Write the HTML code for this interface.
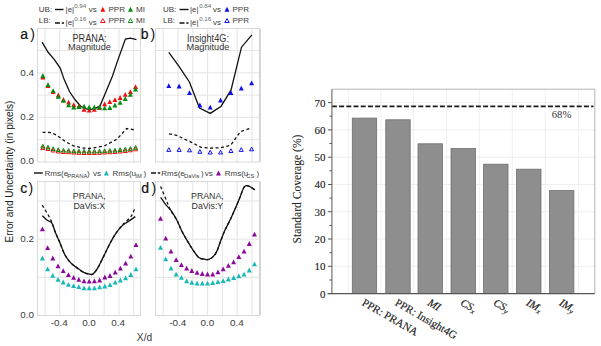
<!DOCTYPE html>
<html><head><meta charset="utf-8"><title>figure</title>
<style>html,body{margin:0;padding:0;background:#fff;width:601px;height:346px;overflow:hidden}svg{display:block}</style>
</head><body>
<svg width="601" height="346" viewBox="0 0 601 346">
<rect width="601" height="346" fill="#fff"/>
<rect x="37.5" y="28.5" width="103.0" height="133.5" fill="#fff"/>
<line x1="45.0" y1="28.5" x2="45.0" y2="162.0" stroke="#e4e4e4" stroke-width="1"/>
<line x1="59.8" y1="28.5" x2="59.8" y2="162.0" stroke="#e4e4e4" stroke-width="1"/>
<line x1="74.6" y1="28.5" x2="74.6" y2="162.0" stroke="#e4e4e4" stroke-width="1"/>
<line x1="89.4" y1="28.5" x2="89.4" y2="162.0" stroke="#e4e4e4" stroke-width="1"/>
<line x1="104.2" y1="28.5" x2="104.2" y2="162.0" stroke="#e4e4e4" stroke-width="1"/>
<line x1="119.0" y1="28.5" x2="119.0" y2="162.0" stroke="#e4e4e4" stroke-width="1"/>
<line x1="133.8" y1="28.5" x2="133.8" y2="162.0" stroke="#e4e4e4" stroke-width="1"/>
<line x1="37.5" y1="139.7" x2="140.5" y2="139.7" stroke="#e4e4e4" stroke-width="1"/>
<line x1="37.5" y1="117.4" x2="140.5" y2="117.4" stroke="#e4e4e4" stroke-width="1"/>
<line x1="37.5" y1="95.1" x2="140.5" y2="95.1" stroke="#e4e4e4" stroke-width="1"/>
<line x1="37.5" y1="72.8" x2="140.5" y2="72.8" stroke="#e4e4e4" stroke-width="1"/>
<line x1="37.5" y1="50.5" x2="140.5" y2="50.5" stroke="#e4e4e4" stroke-width="1"/>
<rect x="37.5" y="28.5" width="103.0" height="133.5" fill="none" stroke="#d9d9d9" stroke-width="1"/>
<rect x="155.5" y="28.5" width="104.0" height="133.5" fill="#fff"/>
<line x1="163.2" y1="28.5" x2="163.2" y2="162.0" stroke="#e4e4e4" stroke-width="1"/>
<line x1="178.0" y1="28.5" x2="178.0" y2="162.0" stroke="#e4e4e4" stroke-width="1"/>
<line x1="192.8" y1="28.5" x2="192.8" y2="162.0" stroke="#e4e4e4" stroke-width="1"/>
<line x1="207.6" y1="28.5" x2="207.6" y2="162.0" stroke="#e4e4e4" stroke-width="1"/>
<line x1="222.4" y1="28.5" x2="222.4" y2="162.0" stroke="#e4e4e4" stroke-width="1"/>
<line x1="237.2" y1="28.5" x2="237.2" y2="162.0" stroke="#e4e4e4" stroke-width="1"/>
<line x1="252.0" y1="28.5" x2="252.0" y2="162.0" stroke="#e4e4e4" stroke-width="1"/>
<line x1="155.5" y1="139.7" x2="259.5" y2="139.7" stroke="#e4e4e4" stroke-width="1"/>
<line x1="155.5" y1="117.4" x2="259.5" y2="117.4" stroke="#e4e4e4" stroke-width="1"/>
<line x1="155.5" y1="95.1" x2="259.5" y2="95.1" stroke="#e4e4e4" stroke-width="1"/>
<line x1="155.5" y1="72.8" x2="259.5" y2="72.8" stroke="#e4e4e4" stroke-width="1"/>
<line x1="155.5" y1="50.5" x2="259.5" y2="50.5" stroke="#e4e4e4" stroke-width="1"/>
<rect x="155.5" y="28.5" width="104.0" height="133.5" fill="none" stroke="#d9d9d9" stroke-width="1"/>
<rect x="37.5" y="181.5" width="103.0" height="134.0" fill="#fff"/>
<line x1="45.0" y1="181.5" x2="45.0" y2="315.5" stroke="#e4e4e4" stroke-width="1"/>
<line x1="59.8" y1="181.5" x2="59.8" y2="315.5" stroke="#e4e4e4" stroke-width="1"/>
<line x1="74.6" y1="181.5" x2="74.6" y2="315.5" stroke="#e4e4e4" stroke-width="1"/>
<line x1="89.4" y1="181.5" x2="89.4" y2="315.5" stroke="#e4e4e4" stroke-width="1"/>
<line x1="104.2" y1="181.5" x2="104.2" y2="315.5" stroke="#e4e4e4" stroke-width="1"/>
<line x1="119.0" y1="181.5" x2="119.0" y2="315.5" stroke="#e4e4e4" stroke-width="1"/>
<line x1="133.8" y1="181.5" x2="133.8" y2="315.5" stroke="#e4e4e4" stroke-width="1"/>
<line x1="37.5" y1="277.4" x2="140.5" y2="277.4" stroke="#e4e4e4" stroke-width="1"/>
<line x1="37.5" y1="239.2" x2="140.5" y2="239.2" stroke="#e4e4e4" stroke-width="1"/>
<line x1="37.5" y1="201.0" x2="140.5" y2="201.0" stroke="#e4e4e4" stroke-width="1"/>
<rect x="37.5" y="181.5" width="103.0" height="134.0" fill="none" stroke="#d9d9d9" stroke-width="1"/>
<rect x="155.5" y="181.5" width="104.0" height="134.0" fill="#fff"/>
<line x1="163.2" y1="181.5" x2="163.2" y2="315.5" stroke="#e4e4e4" stroke-width="1"/>
<line x1="178.0" y1="181.5" x2="178.0" y2="315.5" stroke="#e4e4e4" stroke-width="1"/>
<line x1="192.8" y1="181.5" x2="192.8" y2="315.5" stroke="#e4e4e4" stroke-width="1"/>
<line x1="207.6" y1="181.5" x2="207.6" y2="315.5" stroke="#e4e4e4" stroke-width="1"/>
<line x1="222.4" y1="181.5" x2="222.4" y2="315.5" stroke="#e4e4e4" stroke-width="1"/>
<line x1="237.2" y1="181.5" x2="237.2" y2="315.5" stroke="#e4e4e4" stroke-width="1"/>
<line x1="252.0" y1="181.5" x2="252.0" y2="315.5" stroke="#e4e4e4" stroke-width="1"/>
<line x1="155.5" y1="277.4" x2="259.5" y2="277.4" stroke="#e4e4e4" stroke-width="1"/>
<line x1="155.5" y1="239.2" x2="259.5" y2="239.2" stroke="#e4e4e4" stroke-width="1"/>
<line x1="155.5" y1="201.0" x2="259.5" y2="201.0" stroke="#e4e4e4" stroke-width="1"/>
<rect x="155.5" y="181.5" width="104.0" height="134.0" fill="none" stroke="#d9d9d9" stroke-width="1"/>
<line x1="260" y1="28.5" x2="260" y2="162.0" stroke="#cfcfcf" stroke-width="1.6"/>
<line x1="260" y1="181.5" x2="260" y2="315.5" stroke="#cfcfcf" stroke-width="1.6"/>
<text transform="translate(89.5,41.5) scale(1,1.12)" font-family='"Liberation Sans", sans-serif' font-size="9.2" fill="#333" text-anchor="middle">PRANA:</text><text transform="translate(89.5,50.0)" font-family='"Liberation Sans", sans-serif' font-size="9.2" fill="#333" text-anchor="middle">Magnitude</text>
<text transform="translate(208,41.5) scale(1,1.12)" font-family='"Liberation Sans", sans-serif' font-size="9.2" fill="#333" text-anchor="middle">Insight4G:</text><text transform="translate(208,50.0)" font-family='"Liberation Sans", sans-serif' font-size="9.2" fill="#333" text-anchor="middle">Magnitude</text>
<text transform="translate(89.2,198.6) scale(1,1.05)" font-family='"Liberation Sans", sans-serif' font-size="8.8" fill="#333" text-anchor="middle">PRANA,</text><text transform="translate(89.2,208.6)" font-family='"Liberation Sans", sans-serif' font-size="8.8" fill="#333" text-anchor="middle">DaVis:X</text>
<text transform="translate(207.4,198.6) scale(1,1.05)" font-family='"Liberation Sans", sans-serif' font-size="8.8" fill="#333" text-anchor="middle">PRANA,</text><text transform="translate(207.4,208.6)" font-family='"Liberation Sans", sans-serif' font-size="8.8" fill="#333" text-anchor="middle">DaVis:Y</text>
<text x="20.3" y="38.5" font-family='"Liberation Sans", sans-serif' font-size="14" fill="#111" stroke="#111" stroke-width="0.2">a</text>
<text x="30.3" y="38.5" font-family='"Liberation Sans", sans-serif' font-size="14" fill="#111">)</text>
<text x="140.7" y="38.5" font-family='"Liberation Sans", sans-serif' font-size="14" fill="#111" stroke="#111" stroke-width="0.2">b</text>
<text x="150.6" y="38.5" font-family='"Liberation Sans", sans-serif' font-size="14" fill="#111">)</text>
<text x="20.3" y="193.3" font-family='"Liberation Sans", sans-serif' font-size="14" fill="#111" stroke="#111" stroke-width="0.2">c</text>
<text x="28.6" y="193.3" font-family='"Liberation Sans", sans-serif' font-size="14" fill="#111">)</text>
<text x="141.2" y="193.3" font-family='"Liberation Sans", sans-serif' font-size="14" fill="#111" stroke="#111" stroke-width="0.2">d</text>
<text x="151.5" y="193.3" font-family='"Liberation Sans", sans-serif' font-size="14" fill="#111">)</text>
<polyline points="42.1,42.2 48.1,52.3 54.2,59.3 60.3,68.4 64.0,79.1 69.6,91.8 75.1,99.8 80.7,106.2 84.0,108.0 89.4,109.8 95.0,108.5 99.8,106.2 104.6,95.0 112.5,75.9 117.3,61.6 125.4,39.1 130.5,38.1 136.5,39.7" fill="none" stroke="#111" stroke-width="1.3"/>
<polyline points="42.5,132.3 50.0,132.5 56.4,134.9 64.9,141.3 73.5,146.0 84.1,148.1 89.0,148.5 104.2,146.0 117.0,139.1 126.7,128.5 135.2,130.0" fill="none" stroke="#111" stroke-width="1.3" stroke-dasharray="3,2.5"/>
<polygon points="42.85,74.60 45.35,79.40 40.35,79.40" fill="#f01010"/>
<polygon points="48.00,83.10 50.50,87.90 45.50,87.90" fill="#f01010"/>
<polygon points="53.15,89.30 55.65,94.10 50.65,94.10" fill="#f01010"/>
<polygon points="58.30,92.60 60.80,97.40 55.80,97.40" fill="#f01010"/>
<polygon points="63.45,97.10 65.95,101.90 60.95,101.90" fill="#f01010"/>
<polygon points="68.60,99.80 71.10,104.60 66.10,104.60" fill="#f01010"/>
<polygon points="73.75,102.20 76.25,107.00 71.25,107.00" fill="#f01010"/>
<polygon points="78.90,103.60 81.40,108.40 76.40,108.40" fill="#f01010"/>
<polygon points="84.05,107.00 86.55,111.80 81.55,111.80" fill="#f01010"/>
<polygon points="89.20,107.80 91.70,112.60 86.70,112.60" fill="#f01010"/>
<polygon points="94.35,107.00 96.85,111.80 91.85,111.80" fill="#f01010"/>
<polygon points="99.50,105.10 102.00,109.90 97.00,109.90" fill="#f01010"/>
<polygon points="104.65,101.40 107.15,106.20 102.15,106.20" fill="#f01010"/>
<polygon points="109.80,99.30 112.30,104.10 107.30,104.10" fill="#f01010"/>
<polygon points="114.95,97.20 117.45,102.00 112.45,102.00" fill="#f01010"/>
<polygon points="120.10,95.10 122.60,99.90 117.60,99.90" fill="#f01010"/>
<polygon points="125.25,91.90 127.75,96.70 122.75,96.70" fill="#f01010"/>
<polygon points="130.40,89.30 132.90,94.10 127.90,94.10" fill="#f01010"/>
<polygon points="135.55,84.20 138.05,89.00 133.05,89.00" fill="#f01010"/>
<polygon points="42.85,73.10 45.35,77.90 40.35,77.90" fill="#0a8a10"/>
<polygon points="48.00,82.20 50.50,87.00 45.50,87.00" fill="#0a8a10"/>
<polygon points="53.15,88.20 55.65,93.00 50.65,93.00" fill="#0a8a10"/>
<polygon points="58.30,94.00 60.80,98.80 55.80,98.80" fill="#0a8a10"/>
<polygon points="63.45,97.90 65.95,102.70 60.95,102.70" fill="#0a8a10"/>
<polygon points="68.60,102.50 71.10,107.30 66.10,107.30" fill="#0a8a10"/>
<polygon points="73.75,104.60 76.25,109.40 71.25,109.40" fill="#0a8a10"/>
<polygon points="78.90,104.30 81.40,109.10 76.40,109.10" fill="#0a8a10"/>
<polygon points="84.05,103.80 86.55,108.60 81.55,108.60" fill="#0a8a10"/>
<polygon points="89.20,104.60 91.70,109.40 86.70,109.40" fill="#0a8a10"/>
<polygon points="94.35,104.60 96.85,109.40 91.85,109.40" fill="#0a8a10"/>
<polygon points="99.50,104.60 102.00,109.40 97.00,109.40" fill="#0a8a10"/>
<polygon points="104.65,105.40 107.15,110.20 102.15,110.20" fill="#0a8a10"/>
<polygon points="109.80,105.10 112.30,109.90 107.30,109.90" fill="#0a8a10"/>
<polygon points="114.95,102.60 117.45,107.40 112.45,107.40" fill="#0a8a10"/>
<polygon points="120.10,100.00 122.60,104.80 117.60,104.80" fill="#0a8a10"/>
<polygon points="125.25,96.10 127.75,100.90 122.75,100.90" fill="#0a8a10"/>
<polygon points="130.40,91.90 132.90,96.70 127.90,96.70" fill="#0a8a10"/>
<polygon points="135.55,86.60 138.05,91.40 133.05,91.40" fill="#0a8a10"/>
<polygon points="42.85,145.80 44.85,149.50 40.85,149.50" fill="none" stroke="#f01010" stroke-width="1.0" stroke-linejoin="miter"/>
<polygon points="48.00,146.80 50.00,150.50 46.00,150.50" fill="none" stroke="#f01010" stroke-width="1.0" stroke-linejoin="miter"/>
<polygon points="53.15,148.30 55.15,152.00 51.15,152.00" fill="none" stroke="#f01010" stroke-width="1.0" stroke-linejoin="miter"/>
<polygon points="58.30,149.30 60.30,153.00 56.30,153.00" fill="none" stroke="#f01010" stroke-width="1.0" stroke-linejoin="miter"/>
<polygon points="63.45,149.80 65.45,153.50 61.45,153.50" fill="none" stroke="#f01010" stroke-width="1.0" stroke-linejoin="miter"/>
<polygon points="68.60,150.00 70.60,153.70 66.60,153.70" fill="none" stroke="#f01010" stroke-width="1.0" stroke-linejoin="miter"/>
<polygon points="73.75,150.40 75.75,154.10 71.75,154.10" fill="none" stroke="#f01010" stroke-width="1.0" stroke-linejoin="miter"/>
<polygon points="78.90,150.60 80.90,154.30 76.90,154.30" fill="none" stroke="#f01010" stroke-width="1.0" stroke-linejoin="miter"/>
<polygon points="84.05,150.80 86.05,154.50 82.05,154.50" fill="none" stroke="#f01010" stroke-width="1.0" stroke-linejoin="miter"/>
<polygon points="89.20,150.80 91.20,154.50 87.20,154.50" fill="none" stroke="#f01010" stroke-width="1.0" stroke-linejoin="miter"/>
<polygon points="94.35,150.80 96.35,154.50 92.35,154.50" fill="none" stroke="#f01010" stroke-width="1.0" stroke-linejoin="miter"/>
<polygon points="99.50,150.60 101.50,154.30 97.50,154.30" fill="none" stroke="#f01010" stroke-width="1.0" stroke-linejoin="miter"/>
<polygon points="104.65,150.30 106.65,154.00 102.65,154.00" fill="none" stroke="#f01010" stroke-width="1.0" stroke-linejoin="miter"/>
<polygon points="109.80,150.00 111.80,153.70 107.80,153.70" fill="none" stroke="#f01010" stroke-width="1.0" stroke-linejoin="miter"/>
<polygon points="114.95,149.80 116.95,153.50 112.95,153.50" fill="none" stroke="#f01010" stroke-width="1.0" stroke-linejoin="miter"/>
<polygon points="120.10,149.30 122.10,153.00 118.10,153.00" fill="none" stroke="#f01010" stroke-width="1.0" stroke-linejoin="miter"/>
<polygon points="125.25,148.80 127.25,152.50 123.25,152.50" fill="none" stroke="#f01010" stroke-width="1.0" stroke-linejoin="miter"/>
<polygon points="130.40,148.10 132.40,151.80 128.40,151.80" fill="none" stroke="#f01010" stroke-width="1.0" stroke-linejoin="miter"/>
<polygon points="135.55,147.10 137.55,150.80 133.55,150.80" fill="none" stroke="#f01010" stroke-width="1.0" stroke-linejoin="miter"/>
<polygon points="42.85,144.30 44.85,148.00 40.85,148.00" fill="none" stroke="#0a8a10" stroke-width="1.0" stroke-linejoin="miter"/>
<polygon points="48.00,145.30 50.00,149.00 46.00,149.00" fill="none" stroke="#0a8a10" stroke-width="1.0" stroke-linejoin="miter"/>
<polygon points="53.15,146.80 55.15,150.50 51.15,150.50" fill="none" stroke="#0a8a10" stroke-width="1.0" stroke-linejoin="miter"/>
<polygon points="58.30,147.80 60.30,151.50 56.30,151.50" fill="none" stroke="#0a8a10" stroke-width="1.0" stroke-linejoin="miter"/>
<polygon points="63.45,148.30 65.45,152.00 61.45,152.00" fill="none" stroke="#0a8a10" stroke-width="1.0" stroke-linejoin="miter"/>
<polygon points="68.60,148.50 70.60,152.20 66.60,152.20" fill="none" stroke="#0a8a10" stroke-width="1.0" stroke-linejoin="miter"/>
<polygon points="73.75,148.90 75.75,152.60 71.75,152.60" fill="none" stroke="#0a8a10" stroke-width="1.0" stroke-linejoin="miter"/>
<polygon points="78.90,149.10 80.90,152.80 76.90,152.80" fill="none" stroke="#0a8a10" stroke-width="1.0" stroke-linejoin="miter"/>
<polygon points="84.05,149.30 86.05,153.00 82.05,153.00" fill="none" stroke="#0a8a10" stroke-width="1.0" stroke-linejoin="miter"/>
<polygon points="89.20,149.30 91.20,153.00 87.20,153.00" fill="none" stroke="#0a8a10" stroke-width="1.0" stroke-linejoin="miter"/>
<polygon points="94.35,149.30 96.35,153.00 92.35,153.00" fill="none" stroke="#0a8a10" stroke-width="1.0" stroke-linejoin="miter"/>
<polygon points="99.50,149.10 101.50,152.80 97.50,152.80" fill="none" stroke="#0a8a10" stroke-width="1.0" stroke-linejoin="miter"/>
<polygon points="104.65,148.80 106.65,152.50 102.65,152.50" fill="none" stroke="#0a8a10" stroke-width="1.0" stroke-linejoin="miter"/>
<polygon points="109.80,148.50 111.80,152.20 107.80,152.20" fill="none" stroke="#0a8a10" stroke-width="1.0" stroke-linejoin="miter"/>
<polygon points="114.95,148.30 116.95,152.00 112.95,152.00" fill="none" stroke="#0a8a10" stroke-width="1.0" stroke-linejoin="miter"/>
<polygon points="120.10,147.80 122.10,151.50 118.10,151.50" fill="none" stroke="#0a8a10" stroke-width="1.0" stroke-linejoin="miter"/>
<polygon points="125.25,147.30 127.25,151.00 123.25,151.00" fill="none" stroke="#0a8a10" stroke-width="1.0" stroke-linejoin="miter"/>
<polygon points="130.40,146.60 132.40,150.30 128.40,150.30" fill="none" stroke="#0a8a10" stroke-width="1.0" stroke-linejoin="miter"/>
<polygon points="135.55,145.60 137.55,149.30 133.55,149.30" fill="none" stroke="#0a8a10" stroke-width="1.0" stroke-linejoin="miter"/>
<polyline points="168.8,52.3 179.0,66.4 189.4,82.0 199.5,108.0 210.3,113.4 221.1,106.2 231.0,90.2 241.5,47.2 251.9,34.9" fill="none" stroke="#111" stroke-width="1.3"/>
<polyline points="169.0,133.8 176.5,135.3 191.5,142.4 201.0,147.3 210.7,148.1 221.2,147.7 230.8,145.1 240.4,131.7 250.0,128.5" fill="none" stroke="#111" stroke-width="1.3" stroke-dasharray="3,2.5"/>
<polygon points="168.80,83.20 171.30,88.00 166.30,88.00" fill="#1010e8"/>
<polygon points="179.15,83.60 181.65,88.40 176.65,88.40" fill="#1010e8"/>
<polygon points="189.50,90.20 192.00,95.00 187.00,95.00" fill="#1010e8"/>
<polygon points="199.85,102.60 202.35,107.40 197.35,107.40" fill="#1010e8"/>
<polygon points="210.20,104.70 212.70,109.50 207.70,109.50" fill="#1010e8"/>
<polygon points="220.55,97.60 223.05,102.40 218.05,102.40" fill="#1010e8"/>
<polygon points="230.90,90.30 233.40,95.10 228.40,95.10" fill="#1010e8"/>
<polygon points="241.25,85.80 243.75,90.60 238.75,90.60" fill="#1010e8"/>
<polygon points="251.60,80.40 254.10,85.20 249.10,85.20" fill="#1010e8"/>
<polygon points="168.80,147.70 170.80,151.40 166.80,151.40" fill="none" stroke="#1010e8" stroke-width="1.0" stroke-linejoin="miter"/>
<polygon points="179.15,147.70 181.15,151.40 177.15,151.40" fill="none" stroke="#1010e8" stroke-width="1.0" stroke-linejoin="miter"/>
<polygon points="189.50,148.10 191.50,151.80 187.50,151.80" fill="none" stroke="#1010e8" stroke-width="1.0" stroke-linejoin="miter"/>
<polygon points="199.85,149.60 201.85,153.30 197.85,153.30" fill="none" stroke="#1010e8" stroke-width="1.0" stroke-linejoin="miter"/>
<polygon points="210.20,150.30 212.20,154.00 208.20,154.00" fill="none" stroke="#1010e8" stroke-width="1.0" stroke-linejoin="miter"/>
<polygon points="220.55,150.30 222.55,154.00 218.55,154.00" fill="none" stroke="#1010e8" stroke-width="1.0" stroke-linejoin="miter"/>
<polygon points="230.90,148.80 232.90,152.50 228.90,152.50" fill="none" stroke="#1010e8" stroke-width="1.0" stroke-linejoin="miter"/>
<polygon points="241.25,147.70 243.25,151.40 239.25,151.40" fill="none" stroke="#1010e8" stroke-width="1.0" stroke-linejoin="miter"/>
<polygon points="251.60,147.10 253.60,150.80 249.60,150.80" fill="none" stroke="#1010e8" stroke-width="1.0" stroke-linejoin="miter"/>
<path d="M42.20,215.70 C43.03,216.47 45.58,219.07 47.20,220.30 C48.82,221.53 50.55,221.10 51.90,223.10 C53.25,225.10 53.97,229.03 55.30,232.30 C56.63,235.57 58.35,239.03 59.90,242.70 C61.45,246.37 62.87,251.02 64.60,254.30 C66.33,257.58 68.18,260.10 70.30,262.40 C72.42,264.70 74.98,266.38 77.30,268.10 C79.62,269.82 82.17,271.68 84.20,272.70 C86.23,273.72 88.03,273.98 89.50,274.20 C90.97,274.42 91.63,275.02 93.00,274.00 C94.37,272.98 95.95,271.00 97.70,268.10 C99.45,265.20 101.58,260.45 103.50,256.60 C105.42,252.75 107.28,248.67 109.20,245.00 C111.12,241.33 112.87,237.78 115.00,234.60 C117.13,231.42 119.88,228.02 122.00,225.90 C124.12,223.78 125.48,223.45 127.70,221.90 C129.92,220.35 134.03,217.48 135.30,216.60" fill="none" stroke="#111" stroke-width="1.3"/>
<path d="M42.20,205.10 C43.42,207.13 47.70,213.90 49.50,217.30 C51.30,220.70 52.03,223.00 53.00,225.50 C53.97,228.00 54.15,229.43 55.30,232.30 C56.45,235.17 58.35,239.03 59.90,242.70 C61.45,246.37 62.87,251.02 64.60,254.30 C66.33,257.58 68.18,260.10 70.30,262.40 C72.42,264.70 74.98,266.38 77.30,268.10 C79.62,269.82 82.17,271.68 84.20,272.70 C86.23,273.72 88.03,273.98 89.50,274.20 C90.97,274.42 91.63,275.02 93.00,274.00 C94.37,272.98 95.95,271.00 97.70,268.10 C99.45,265.20 101.58,260.45 103.50,256.60 C105.42,252.75 107.28,248.67 109.20,245.00 C111.12,241.33 113.37,237.27 115.00,234.60 C116.63,231.93 117.65,230.73 119.00,229.00 C120.35,227.27 121.07,226.33 123.10,224.20 C125.13,222.07 129.17,219.08 131.20,216.20 C133.23,213.32 134.62,208.45 135.30,206.90" fill="none" stroke="#111" stroke-width="1.3" stroke-dasharray="3,2.5"/>
<polygon points="42.40,226.50 44.90,231.30 39.90,231.30" fill="#8a0a9a"/>
<polygon points="47.60,245.20 50.10,250.00 45.10,250.00" fill="#8a0a9a"/>
<polygon points="52.80,255.60 55.30,260.40 50.30,260.40" fill="#8a0a9a"/>
<polygon points="58.00,263.50 60.50,268.30 55.50,268.30" fill="#8a0a9a"/>
<polygon points="63.20,268.30 65.70,273.10 60.70,273.10" fill="#8a0a9a"/>
<polygon points="68.40,272.20 70.90,277.00 65.90,277.00" fill="#8a0a9a"/>
<polygon points="73.60,275.00 76.10,279.80 71.10,279.80" fill="#8a0a9a"/>
<polygon points="78.80,276.90 81.30,281.70 76.30,281.70" fill="#8a0a9a"/>
<polygon points="84.00,278.50 86.50,283.30 81.50,283.30" fill="#8a0a9a"/>
<polygon points="89.20,278.70 91.70,283.50 86.70,283.50" fill="#8a0a9a"/>
<polygon points="94.40,278.50 96.90,283.30 91.90,283.30" fill="#8a0a9a"/>
<polygon points="99.60,277.60 102.10,282.40 97.10,282.40" fill="#8a0a9a"/>
<polygon points="104.80,274.60 107.30,279.40 102.30,279.40" fill="#8a0a9a"/>
<polygon points="110.00,273.10 112.50,277.90 107.50,277.90" fill="#8a0a9a"/>
<polygon points="115.20,269.80 117.70,274.60 112.70,274.60" fill="#8a0a9a"/>
<polygon points="120.40,265.80 122.90,270.60 117.90,270.60" fill="#8a0a9a"/>
<polygon points="125.60,260.80 128.10,265.60 123.10,265.60" fill="#8a0a9a"/>
<polygon points="130.80,253.70 133.30,258.50 128.30,258.50" fill="#8a0a9a"/>
<polygon points="136.00,242.30 138.50,247.10 133.50,247.10" fill="#8a0a9a"/>
<polygon points="42.40,255.60 44.90,260.40 39.90,260.40" fill="#18b8b8"/>
<polygon points="47.60,266.50 50.10,271.30 45.10,271.30" fill="#18b8b8"/>
<polygon points="52.80,272.90 55.30,277.70 50.30,277.70" fill="#18b8b8"/>
<polygon points="58.00,276.90 60.50,281.70 55.50,281.70" fill="#18b8b8"/>
<polygon points="63.20,279.60 65.70,284.40 60.70,284.40" fill="#18b8b8"/>
<polygon points="68.40,281.90 70.90,286.70 65.90,286.70" fill="#18b8b8"/>
<polygon points="73.60,283.30 76.10,288.10 71.10,288.10" fill="#18b8b8"/>
<polygon points="78.80,284.30 81.30,289.10 76.30,289.10" fill="#18b8b8"/>
<polygon points="84.00,285.40 86.50,290.20 81.50,290.20" fill="#18b8b8"/>
<polygon points="89.20,285.40 91.70,290.20 86.70,290.20" fill="#18b8b8"/>
<polygon points="94.40,285.40 96.90,290.20 91.90,290.20" fill="#18b8b8"/>
<polygon points="99.60,284.50 102.10,289.30 97.10,289.30" fill="#18b8b8"/>
<polygon points="104.80,283.60 107.30,288.40 102.30,288.40" fill="#18b8b8"/>
<polygon points="110.00,282.30 112.50,287.10 107.50,287.10" fill="#18b8b8"/>
<polygon points="115.20,279.70 117.70,284.50 112.70,284.50" fill="#18b8b8"/>
<polygon points="120.40,277.60 122.90,282.40 117.90,282.40" fill="#18b8b8"/>
<polygon points="125.60,275.40 128.10,280.20 123.10,280.20" fill="#18b8b8"/>
<polygon points="130.80,272.10 133.30,276.90 128.30,276.90" fill="#18b8b8"/>
<polygon points="136.00,266.40 138.50,271.20 133.50,271.20" fill="#18b8b8"/>
<path d="M160.60,197.30 C161.37,198.38 163.47,201.57 165.20,203.80 C166.93,206.03 169.07,208.00 171.00,210.70 C172.93,213.40 175.07,216.73 176.80,220.00 C178.53,223.27 179.67,226.85 181.40,230.30 C183.13,233.75 185.27,237.42 187.20,240.70 C189.13,243.98 191.08,247.22 193.00,250.00 C194.92,252.78 196.78,255.87 198.70,257.40 C200.62,258.93 202.82,258.87 204.50,259.20 C206.18,259.53 207.32,259.87 208.80,259.40 C210.28,258.93 212.05,257.78 213.40,256.40 C214.75,255.02 215.75,253.52 216.90,251.10 C218.05,248.68 218.97,245.37 220.30,241.90 C221.63,238.43 223.17,234.15 224.90,230.30 C226.63,226.45 228.97,222.45 230.70,218.80 C232.43,215.15 233.95,211.48 235.30,208.40 C236.65,205.32 237.63,203.18 238.80,200.30 C239.97,197.42 241.33,193.40 242.30,191.10 C243.27,188.80 243.65,187.38 244.60,186.50 C245.55,185.62 246.85,185.62 248.00,185.80 C249.15,185.98 250.33,186.92 251.50,187.60 C252.67,188.28 254.42,189.52 255.00,189.90" fill="none" stroke="#111" stroke-width="1.3"/>
<path d="M160.60,186.50 C161.57,188.80 164.78,196.45 166.40,200.30 C168.02,204.15 168.57,206.32 170.30,209.60 C172.03,212.88 174.95,216.55 176.80,220.00 C178.65,223.45 179.67,226.85 181.40,230.30 C183.13,233.75 185.27,237.42 187.20,240.70 C189.13,243.98 191.08,247.22 193.00,250.00 C194.92,252.78 196.78,255.87 198.70,257.40 C200.62,258.93 202.82,258.87 204.50,259.20 C206.18,259.53 207.32,259.87 208.80,259.40 C210.28,258.93 212.05,257.78 213.40,256.40 C214.75,255.02 215.75,253.52 216.90,251.10 C218.05,248.68 218.97,245.37 220.30,241.90 C221.63,238.43 223.17,234.15 224.90,230.30 C226.63,226.45 228.97,222.45 230.70,218.80 C232.43,215.15 233.95,211.48 235.30,208.40 C236.65,205.32 237.63,203.18 238.80,200.30 C239.97,197.42 241.33,193.40 242.30,191.10 C243.27,188.80 243.65,187.38 244.60,186.50 C245.55,185.62 246.85,185.62 248.00,185.80 C249.15,185.98 250.33,186.92 251.50,187.60 C252.67,188.28 254.42,189.52 255.00,189.90" fill="none" stroke="#111" stroke-width="1.3" stroke-dasharray="3,2.5"/>
<polygon points="160.52,216.00 163.02,220.80 158.02,220.80" fill="#8a0a9a"/>
<polygon points="165.74,235.80 168.24,240.60 163.24,240.60" fill="#8a0a9a"/>
<polygon points="170.96,248.70 173.46,253.50 168.46,253.50" fill="#8a0a9a"/>
<polygon points="176.18,257.20 178.68,262.00 173.68,262.00" fill="#8a0a9a"/>
<polygon points="181.40,262.30 183.90,267.10 178.90,267.10" fill="#8a0a9a"/>
<polygon points="186.62,265.80 189.12,270.60 184.12,270.60" fill="#8a0a9a"/>
<polygon points="191.84,268.10 194.34,272.90 189.34,272.90" fill="#8a0a9a"/>
<polygon points="197.06,269.90 199.56,274.70 194.56,274.70" fill="#8a0a9a"/>
<polygon points="202.28,271.10 204.78,275.90 199.78,275.90" fill="#8a0a9a"/>
<polygon points="207.50,271.60 210.00,276.40 205.00,276.40" fill="#8a0a9a"/>
<polygon points="212.72,271.60 215.22,276.40 210.22,276.40" fill="#8a0a9a"/>
<polygon points="217.94,269.50 220.44,274.30 215.44,274.30" fill="#8a0a9a"/>
<polygon points="223.16,266.50 225.66,271.30 220.66,271.30" fill="#8a0a9a"/>
<polygon points="228.38,263.00 230.88,267.80 225.88,267.80" fill="#8a0a9a"/>
<polygon points="233.60,259.50 236.10,264.30 231.10,264.30" fill="#8a0a9a"/>
<polygon points="238.82,254.20 241.32,259.00 236.32,259.00" fill="#8a0a9a"/>
<polygon points="244.04,248.70 246.54,253.50 241.54,253.50" fill="#8a0a9a"/>
<polygon points="249.26,241.10 251.76,245.90 246.76,245.90" fill="#8a0a9a"/>
<polygon points="254.48,231.70 256.98,236.50 251.98,236.50" fill="#8a0a9a"/>
<polygon points="160.52,245.00 163.02,249.80 158.02,249.80" fill="#18b8b8"/>
<polygon points="165.74,256.50 168.24,261.30 163.24,261.30" fill="#18b8b8"/>
<polygon points="170.96,265.80 173.46,270.60 168.46,270.60" fill="#18b8b8"/>
<polygon points="176.18,271.80 178.68,276.60 173.68,276.60" fill="#18b8b8"/>
<polygon points="181.40,275.00 183.90,279.80 178.90,279.80" fill="#18b8b8"/>
<polygon points="186.62,278.50 189.12,283.30 184.12,283.30" fill="#18b8b8"/>
<polygon points="191.84,279.90 194.34,284.70 189.34,284.70" fill="#18b8b8"/>
<polygon points="197.06,280.80 199.56,285.60 194.56,285.60" fill="#18b8b8"/>
<polygon points="202.28,280.80 204.78,285.60 199.78,285.60" fill="#18b8b8"/>
<polygon points="207.50,280.80 210.00,285.60 205.00,285.60" fill="#18b8b8"/>
<polygon points="212.72,280.30 215.22,285.10 210.22,285.10" fill="#18b8b8"/>
<polygon points="217.94,279.20 220.44,284.00 215.44,284.00" fill="#18b8b8"/>
<polygon points="223.16,278.20 225.66,283.00 220.66,283.00" fill="#18b8b8"/>
<polygon points="228.38,276.60 230.88,281.40 225.88,281.40" fill="#18b8b8"/>
<polygon points="233.60,275.10 236.10,279.90 231.10,279.90" fill="#18b8b8"/>
<polygon points="238.82,273.40 241.32,278.20 236.32,278.20" fill="#18b8b8"/>
<polygon points="244.04,271.80 246.54,276.60 241.54,276.60" fill="#18b8b8"/>
<polygon points="249.26,267.60 251.76,272.40 246.76,272.40" fill="#18b8b8"/>
<polygon points="254.48,261.40 256.98,266.20 251.98,266.20" fill="#18b8b8"/>
<text x="34" y="75.6" font-family='"Liberation Sans", sans-serif' font-size="9.9" fill="#3c3c3c" text-anchor="end">0.4</text>
<text x="34" y="119.9" font-family='"Liberation Sans", sans-serif' font-size="9.9" fill="#3c3c3c" text-anchor="end">0.2</text>
<text x="34" y="164.1" font-family='"Liberation Sans", sans-serif' font-size="9.9" fill="#3c3c3c" text-anchor="end">0.0</text>
<text x="34" y="241.6" font-family='"Liberation Sans", sans-serif' font-size="9.9" fill="#3c3c3c" text-anchor="end">0.2</text>
<text x="34" y="318.2" font-family='"Liberation Sans", sans-serif' font-size="9.9" fill="#3c3c3c" text-anchor="end">0.0</text>
<text x="59.3" y="326.3" font-family='"Liberation Sans", sans-serif' font-size="9.9" fill="#3c3c3c" text-anchor="middle">-0.4</text>
<text x="89.0" y="326.3" font-family='"Liberation Sans", sans-serif' font-size="9.9" fill="#3c3c3c" text-anchor="middle">0.0</text>
<text x="118.2" y="326.3" font-family='"Liberation Sans", sans-serif' font-size="9.9" fill="#3c3c3c" text-anchor="middle">0.4</text>
<text x="177.8" y="326.3" font-family='"Liberation Sans", sans-serif' font-size="9.9" fill="#3c3c3c" text-anchor="middle">-0.4</text>
<text x="207.3" y="326.3" font-family='"Liberation Sans", sans-serif' font-size="9.9" fill="#3c3c3c" text-anchor="middle">0.0</text>
<text x="236.8" y="326.3" font-family='"Liberation Sans", sans-serif' font-size="9.9" fill="#3c3c3c" text-anchor="middle">0.4</text>
<text x="144.5" y="341" font-family='"Liberation Sans", sans-serif' font-size="10.2" fill="#3c3c3c" text-anchor="middle">X/d</text>
<text transform="translate(13.3,171.6) rotate(-90)" font-family='"Liberation Sans", sans-serif' font-size="10.1" fill="#222" text-anchor="middle">Error and Uncertainty (in pixels)</text>
<text x="38.8" y="11.8" font-family='"Liberation Sans", sans-serif' font-size="8.0" fill="#3c3c3c">UB:</text>
<line x1="55" y1="9.5" x2="63.5" y2="9.5" stroke="#111" stroke-width="1.4"/>
<text x="65.6" y="12.2" font-family='"Liberation Sans", sans-serif' font-size="7.9" fill="#3c3c3c">|e|</text>
<text x="74.2" y="8.1" font-family='"Liberation Sans", sans-serif' font-size="6.2" fill="#666">0.94</text>
<text x="88.8" y="11.8" font-family='"Liberation Sans", sans-serif' font-size="8.0" fill="#3c3c3c">vs</text>
<polygon points="102.80,6.70 105.30,11.70 100.30,11.70" fill="#f01010"/>
<text x="108.5" y="11.8" font-family='"Liberation Sans", sans-serif' font-size="8.0" fill="#3c3c3c">PPR</text>
<polygon points="130.50,6.70 133.00,11.70 128.00,11.70" fill="#0a8a10"/>
<text x="136" y="11.8" font-family='"Liberation Sans", sans-serif' font-size="8.0" fill="#3c3c3c">MI</text>
<text x="38.8" y="22.8" font-family='"Liberation Sans", sans-serif' font-size="8.0" fill="#3c3c3c">LB:</text>
<line x1="55" y1="23" x2="64" y2="23" stroke="#111" stroke-width="1.4" stroke-dasharray="5,1.8,2.4,20"/>
<text x="65.6" y="25.2" font-family='"Liberation Sans", sans-serif' font-size="7.9" fill="#3c3c3c">|e|</text>
<text x="74.2" y="21" font-family='"Liberation Sans", sans-serif' font-size="6.2" fill="#666">0.16</text>
<text x="88.8" y="24.6" font-family='"Liberation Sans", sans-serif' font-size="8.0" fill="#3c3c3c">vs</text>
<polygon points="102.80,18.60 105.05,22.50 100.55,22.50" fill="none" stroke="#f01010" stroke-width="1.0" stroke-linejoin="miter"/>
<text x="108.5" y="22.8" font-family='"Liberation Sans", sans-serif' font-size="8.0" fill="#3c3c3c">PPR</text>
<polygon points="130.50,18.60 132.75,22.50 128.25,22.50" fill="none" stroke="#0a8a10" stroke-width="1.0" stroke-linejoin="miter"/>
<text x="136" y="22.8" font-family='"Liberation Sans", sans-serif' font-size="8.0" fill="#3c3c3c">MI</text>
<text x="163" y="11.8" font-family='"Liberation Sans", sans-serif' font-size="8.0" fill="#3c3c3c">UB:</text>
<line x1="179.5" y1="9.5" x2="188.5" y2="9.5" stroke="#111" stroke-width="1.4"/>
<text x="190" y="12.2" font-family='"Liberation Sans", sans-serif' font-size="7.9" fill="#3c3c3c">|e|</text>
<text x="199.2" y="8.1" font-family='"Liberation Sans", sans-serif' font-size="6.2" fill="#666">0.84</text>
<text x="213" y="11.8" font-family='"Liberation Sans", sans-serif' font-size="8.0" fill="#3c3c3c">vs</text>
<polygon points="227.00,6.70 229.50,11.70 224.50,11.70" fill="#1010e8"/>
<text x="232.5" y="11.8" font-family='"Liberation Sans", sans-serif' font-size="8.0" fill="#3c3c3c">PPR</text>
<text x="163" y="22.8" font-family='"Liberation Sans", sans-serif' font-size="8.0" fill="#3c3c3c">LB:</text>
<line x1="179.5" y1="23" x2="188.5" y2="23" stroke="#111" stroke-width="1.4" stroke-dasharray="5,1.8,2.4,20"/>
<text x="190" y="25.2" font-family='"Liberation Sans", sans-serif' font-size="7.9" fill="#3c3c3c">|e|</text>
<text x="199.2" y="21" font-family='"Liberation Sans", sans-serif' font-size="6.2" fill="#666">0.16</text>
<text x="213" y="24.6" font-family='"Liberation Sans", sans-serif' font-size="8.0" fill="#3c3c3c">vs</text>
<polygon points="227.00,18.60 229.25,22.50 224.75,22.50" fill="none" stroke="#1010e8" stroke-width="1.0" stroke-linejoin="miter"/>
<text x="232.5" y="22.8" font-family='"Liberation Sans", sans-serif' font-size="8.0" fill="#3c3c3c">PPR</text>
<line x1="34" y1="173" x2="42.8" y2="173" stroke="#111" stroke-width="1.4"/>
<text x="44.6" y="176" font-family='"Liberation Sans", sans-serif' font-size="8.0" fill="#3c3c3c">Rms(e</text>
<text x="67.3" y="178" font-family='"Liberation Sans", sans-serif' font-size="5.8" fill="#3c3c3c">PRANA</text>
<text x="87" y="176" font-family='"Liberation Sans", sans-serif' font-size="8.0" fill="#3c3c3c">)</text>
<text x="92.9" y="176" font-family='"Liberation Sans", sans-serif' font-size="8.0" fill="#3c3c3c">vs</text>
<polygon points="106.30,170.50 108.80,175.50 103.80,175.50" fill="#18b8b8"/>
<text x="112.5" y="176" font-family='"Liberation Sans", sans-serif' font-size="8.0" fill="#3c3c3c">Rms(u</text>
<text x="135.3" y="178" font-family='"Liberation Sans", sans-serif' font-size="5.8" fill="#3c3c3c">IM</text>
<text x="143.6" y="176" font-family='"Liberation Sans", sans-serif' font-size="8.0" fill="#3c3c3c">)</text>
<line x1="151" y1="173" x2="161.4" y2="173" stroke="#111" stroke-width="1.4" stroke-dasharray="5,1.8,2.4,20"/>
<text x="161.2" y="176" font-family='"Liberation Sans", sans-serif' font-size="8.0" fill="#3c3c3c">Rms(e</text>
<text x="184" y="178" font-family='"Liberation Sans", sans-serif' font-size="5.8" fill="#3c3c3c">DaVis</text>
<text x="201" y="176" font-family='"Liberation Sans", sans-serif' font-size="8.0" fill="#3c3c3c">)</text>
<text x="204.8" y="176" font-family='"Liberation Sans", sans-serif' font-size="8.0" fill="#3c3c3c">vs</text>
<polygon points="218.50,170.50 221.00,175.50 216.00,175.50" fill="#8a0a9a"/>
<text x="224.7" y="176" font-family='"Liberation Sans", sans-serif' font-size="8.0" fill="#3c3c3c">Rms(u</text>
<text x="246.3" y="178" font-family='"Liberation Sans", sans-serif' font-size="5.8" fill="#3c3c3c">CS</text>
<text x="256.5" y="176" font-family='"Liberation Sans", sans-serif' font-size="8.0" fill="#3c3c3c">)</text>
<line x1="331.9" y1="266.3" x2="594.8" y2="266.3" stroke="#ececec" stroke-width="0.8"/>
<line x1="331.9" y1="239.0" x2="594.8" y2="239.0" stroke="#ececec" stroke-width="0.8"/>
<line x1="331.9" y1="211.7" x2="594.8" y2="211.7" stroke="#ececec" stroke-width="0.8"/>
<line x1="331.9" y1="184.5" x2="594.8" y2="184.5" stroke="#ececec" stroke-width="0.8"/>
<line x1="331.9" y1="157.2" x2="594.8" y2="157.2" stroke="#ececec" stroke-width="0.8"/>
<line x1="331.9" y1="129.9" x2="594.8" y2="129.9" stroke="#ececec" stroke-width="0.8"/>
<line x1="331.9" y1="102.6" x2="594.8" y2="102.6" stroke="#ececec" stroke-width="0.8"/>
<line x1="348.4" y1="89.2" x2="348.4" y2="293.6" stroke="#ececec" stroke-width="0.8"/>
<line x1="380.9" y1="89.2" x2="380.9" y2="293.6" stroke="#ececec" stroke-width="0.8"/>
<line x1="413.6" y1="89.2" x2="413.6" y2="293.6" stroke="#ececec" stroke-width="0.8"/>
<line x1="446.5" y1="89.2" x2="446.5" y2="293.6" stroke="#ececec" stroke-width="0.8"/>
<line x1="479.4" y1="89.2" x2="479.4" y2="293.6" stroke="#ececec" stroke-width="0.8"/>
<line x1="512.3" y1="89.2" x2="512.3" y2="293.6" stroke="#ececec" stroke-width="0.8"/>
<line x1="545.2" y1="89.2" x2="545.2" y2="293.6" stroke="#ececec" stroke-width="0.8"/>
<line x1="578.6" y1="89.2" x2="578.6" y2="293.6" stroke="#ececec" stroke-width="0.8"/>
<line x1="331.9" y1="89.2" x2="594.8" y2="89.2" stroke="#b4b4b4" stroke-width="1"/>
<line x1="594.8" y1="89.2" x2="594.8" y2="293.6" stroke="#b4b4b4" stroke-width="1"/>
<rect x="352.3" y="118.1" width="24.4" height="175.5" fill="#8e8e8e" stroke="#6e6e6e" stroke-width="0.8"/>
<rect x="385.8" y="119.8" width="24.4" height="173.8" fill="#8e8e8e" stroke="#6e6e6e" stroke-width="0.8"/>
<rect x="418.0" y="143.8" width="24.4" height="149.8" fill="#8e8e8e" stroke="#6e6e6e" stroke-width="0.8"/>
<rect x="451.0" y="148.5" width="24.4" height="145.1" fill="#8e8e8e" stroke="#6e6e6e" stroke-width="0.8"/>
<rect x="483.6" y="164.2" width="24.4" height="129.4" fill="#8e8e8e" stroke="#6e6e6e" stroke-width="0.8"/>
<rect x="516.6" y="169.2" width="24.4" height="124.4" fill="#8e8e8e" stroke="#6e6e6e" stroke-width="0.8"/>
<rect x="549.5" y="190.6" width="24.4" height="103.0" fill="#8e8e8e" stroke="#6e6e6e" stroke-width="0.8"/>
<line x1="331.9" y1="106.3" x2="593.5" y2="106.3" stroke="#1a1a1a" stroke-width="1.8" stroke-dasharray="5,2.2"/>
<text x="551.8" y="118.4" font-family='"Liberation Serif", serif' font-size="10.6" fill="#333" text-anchor="start">68%</text>
<line x1="331.9" y1="89.2" x2="331.9" y2="293.6" stroke="#666" stroke-width="1.1"/>
<line x1="327.6" y1="293.6" x2="594.8" y2="293.6" stroke="#555" stroke-width="1.1"/>
<line x1="328" y1="293.6" x2="331.9" y2="293.6" stroke="#555" stroke-width="1"/>
<text x="325.4" y="297.5" font-family='"Liberation Serif", serif' font-size="11" fill="#222" stroke="#222" stroke-width="0.12" text-anchor="end">0</text>
<line x1="328" y1="266.3" x2="331.9" y2="266.3" stroke="#555" stroke-width="1"/>
<text x="325.4" y="270.2" font-family='"Liberation Serif", serif' font-size="11" fill="#222" stroke="#222" stroke-width="0.12" text-anchor="end">10</text>
<line x1="328" y1="239.0" x2="331.9" y2="239.0" stroke="#555" stroke-width="1"/>
<text x="325.4" y="242.9" font-family='"Liberation Serif", serif' font-size="11" fill="#222" stroke="#222" stroke-width="0.12" text-anchor="end">20</text>
<line x1="328" y1="211.7" x2="331.9" y2="211.7" stroke="#555" stroke-width="1"/>
<text x="325.4" y="215.6" font-family='"Liberation Serif", serif' font-size="11" fill="#222" stroke="#222" stroke-width="0.12" text-anchor="end">30</text>
<line x1="328" y1="184.5" x2="331.9" y2="184.5" stroke="#555" stroke-width="1"/>
<text x="325.4" y="188.4" font-family='"Liberation Serif", serif' font-size="11" fill="#222" stroke="#222" stroke-width="0.12" text-anchor="end">40</text>
<line x1="328" y1="157.2" x2="331.9" y2="157.2" stroke="#555" stroke-width="1"/>
<text x="325.4" y="161.1" font-family='"Liberation Serif", serif' font-size="11" fill="#222" stroke="#222" stroke-width="0.12" text-anchor="end">50</text>
<line x1="328" y1="129.9" x2="331.9" y2="129.9" stroke="#555" stroke-width="1"/>
<text x="325.4" y="133.8" font-family='"Liberation Serif", serif' font-size="11" fill="#222" stroke="#222" stroke-width="0.12" text-anchor="end">60</text>
<line x1="328" y1="102.6" x2="331.9" y2="102.6" stroke="#555" stroke-width="1"/>
<text x="325.4" y="106.5" font-family='"Liberation Serif", serif' font-size="11" fill="#222" stroke="#222" stroke-width="0.12" text-anchor="end">70</text>
<line x1="329.5" y1="280.0" x2="331.9" y2="280.0" stroke="#555" stroke-width="1"/>
<line x1="329.5" y1="252.7" x2="331.9" y2="252.7" stroke="#555" stroke-width="1"/>
<line x1="329.5" y1="225.4" x2="331.9" y2="225.4" stroke="#555" stroke-width="1"/>
<line x1="329.5" y1="198.1" x2="331.9" y2="198.1" stroke="#555" stroke-width="1"/>
<line x1="329.5" y1="170.8" x2="331.9" y2="170.8" stroke="#555" stroke-width="1"/>
<line x1="329.5" y1="143.5" x2="331.9" y2="143.5" stroke="#555" stroke-width="1"/>
<line x1="329.5" y1="116.2" x2="331.9" y2="116.2" stroke="#555" stroke-width="1"/>
<text transform="translate(300.7,189) rotate(-90)" font-family='"Liberation Serif", serif' font-size="11.6" fill="#222" stroke="#222" stroke-width="0.08" text-anchor="middle">Standard Coverage (%)</text>
<text transform="translate(365.1,297.9) rotate(30)" x="0" y="7.8" stroke="#222" stroke-width="0.15" font-family='"Liberation Serif", serif' font-size="11" fill="#222">PPR: PRANA</text>
<text transform="translate(398.1,297.9) rotate(30)" x="0" y="7.8" stroke="#222" stroke-width="0.15" font-family='"Liberation Serif", serif' font-size="11" fill="#222">PPR: Insight4G</text>
<text transform="translate(430.8,297.9) rotate(30)" x="0" y="7.8" stroke="#222" stroke-width="0.15" font-family='"Liberation Serif", serif' font-size="11" font-style="italic" fill="#222">MI</text>
<text transform="translate(463.6,297.9) rotate(30)" x="0" y="7.8" stroke="#222" stroke-width="0.15" font-family='"Liberation Serif", serif' font-size="11" font-style="italic" fill="#222">CS<tspan font-size="7.4" dy="1.9">x</tspan></text>
<text transform="translate(496.6,297.9) rotate(30)" x="0" y="7.8" stroke="#222" stroke-width="0.15" font-family='"Liberation Serif", serif' font-size="11" font-style="italic" fill="#222">CS<tspan font-size="7.4" dy="1.9">y</tspan></text>
<text transform="translate(529.5,297.9) rotate(30)" x="0" y="7.8" stroke="#222" stroke-width="0.15" font-family='"Liberation Serif", serif' font-size="11" font-style="italic" fill="#222">IM<tspan font-size="7.4" dy="1.9">x</tspan></text>
<text transform="translate(562.3,297.9) rotate(30)" x="0" y="7.8" stroke="#222" stroke-width="0.15" font-family='"Liberation Serif", serif' font-size="11" font-style="italic" fill="#222">IM<tspan font-size="7.4" dy="1.9">y</tspan></text>
</svg>
</body></html>
